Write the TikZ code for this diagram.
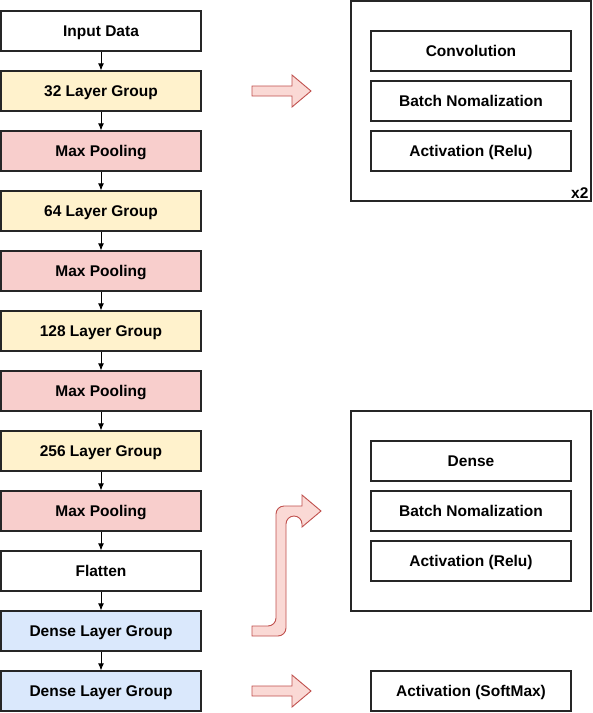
\documentclass[tikz,border=0pt]{standalone}
\usepackage{fontspec}
\setmainfont{Liberation Sans}
\usetikzlibrary{arrows.meta}
\definecolor{yel}{HTML}{FFF2CC}
\definecolor{red}{HTML}{F8CECC}
\definecolor{blu}{HTML}{DAE8FC}
\definecolor{arrfill}{HTML}{FAD9D5}
\definecolor{arrline}{HTML}{C0504D}
\begin{document}
\begin{tikzpicture}[x=1pt,y=-1pt,
  blk/.style={draw=black!85,line width=1.2pt,minimum width=200pt,minimum height=40pt,inner sep=0pt,text height=11pt,text depth=0pt,font=\bfseries\fontsize{15.5}{18}\selectfont},
  frame/.style={draw=black!85,line width=1.2pt,minimum width=240pt,minimum height=200pt,inner sep=0pt},
  conn/.style={-{Latex[length=7pt,width=6pt]},line width=0.9pt,black},
  bigarrow/.style={draw=arrline,fill=arrfill,line width=0.9pt,line join=miter}]
\useasboundingbox (0,0) rectangle (593,713);
% left column
\node[blk,fill=white] (n1) at (101,31) {Input Data};
\node[blk,fill=yel] (n2) at (101,91) {32 Layer Group};
\node[blk,fill=red] (n3) at (101,151) {Max Pooling};
\node[blk,fill=yel] (n4) at (101,211) {64 Layer Group};
\node[blk,fill=red] (n5) at (101,271) {Max Pooling};
\node[blk,fill=yel] (n6) at (101,331) {128 Layer Group};
\node[blk,fill=red] (n7) at (101,391) {Max Pooling};
\node[blk,fill=yel] (n8) at (101,451) {256 Layer Group};
\node[blk,fill=red] (n9) at (101,511) {Max Pooling};
\node[blk,fill=white] (n10) at (101,571) {Flatten};
\node[blk,fill=blu] (n11) at (101,631) {Dense Layer Group};
\node[blk,fill=blu] (n12) at (101,691) {Dense Layer Group};
\foreach \a/\b in {n1/n2,n2/n3,n3/n4,n4/n5,n5/n6,n6/n7,n7/n8,n8/n9,n9/n10,n10/n11,n11/n12}
  \draw[conn] (\a) -- (\b);
% right top group
\node[frame] (g1) at (471,101) {};
\node[blk,fill=white] (c1) at (471,51) {Convolution};
\node[blk,fill=white] (c2) at (471,101) {Batch Nomalization};
\node[blk,fill=white] (c3) at (471,151) {Activation (Relu)};
\node[anchor=south east,inner xsep=3pt,inner ysep=3pt,font=\bfseries\fontsize{15.5}{18}\selectfont] (x2) at (g1.south east) {x2};
% right middle group
\node[frame] (g2) at (471,511) {};
\node[blk,fill=white] (d1) at (471,461) {Dense};
\node[blk,fill=white] (d2) at (471,511) {Batch Nomalization};
\node[blk,fill=white] (d3) at (471,561) {Activation (Relu)};
% softmax
\node[blk,fill=white] (s1) at (471,691) {Activation (SoftMax)};
% block arrows
\draw[bigarrow] (252,86) -- (292,86) -- (292,75) -- (311,91) -- (292,107) -- (292,96) -- (252,96) -- cycle;
\draw[bigarrow] (252,686) -- (292,686) -- (292,675) -- (311,691) -- (292,707) -- (292,696) -- (252,696) -- cycle;
\draw[bigarrow,rounded corners=8pt] (252,636) -- (286,636) -- (286,516) -- (302,516) [sharp corners]-- (302,527) -- (321,511) -- (302,495) -- (302,506) [rounded corners=8pt]-- (276,506) -- (276,626) [sharp corners]-- (252,626) -- cycle;
\end{tikzpicture}
\end{document}
